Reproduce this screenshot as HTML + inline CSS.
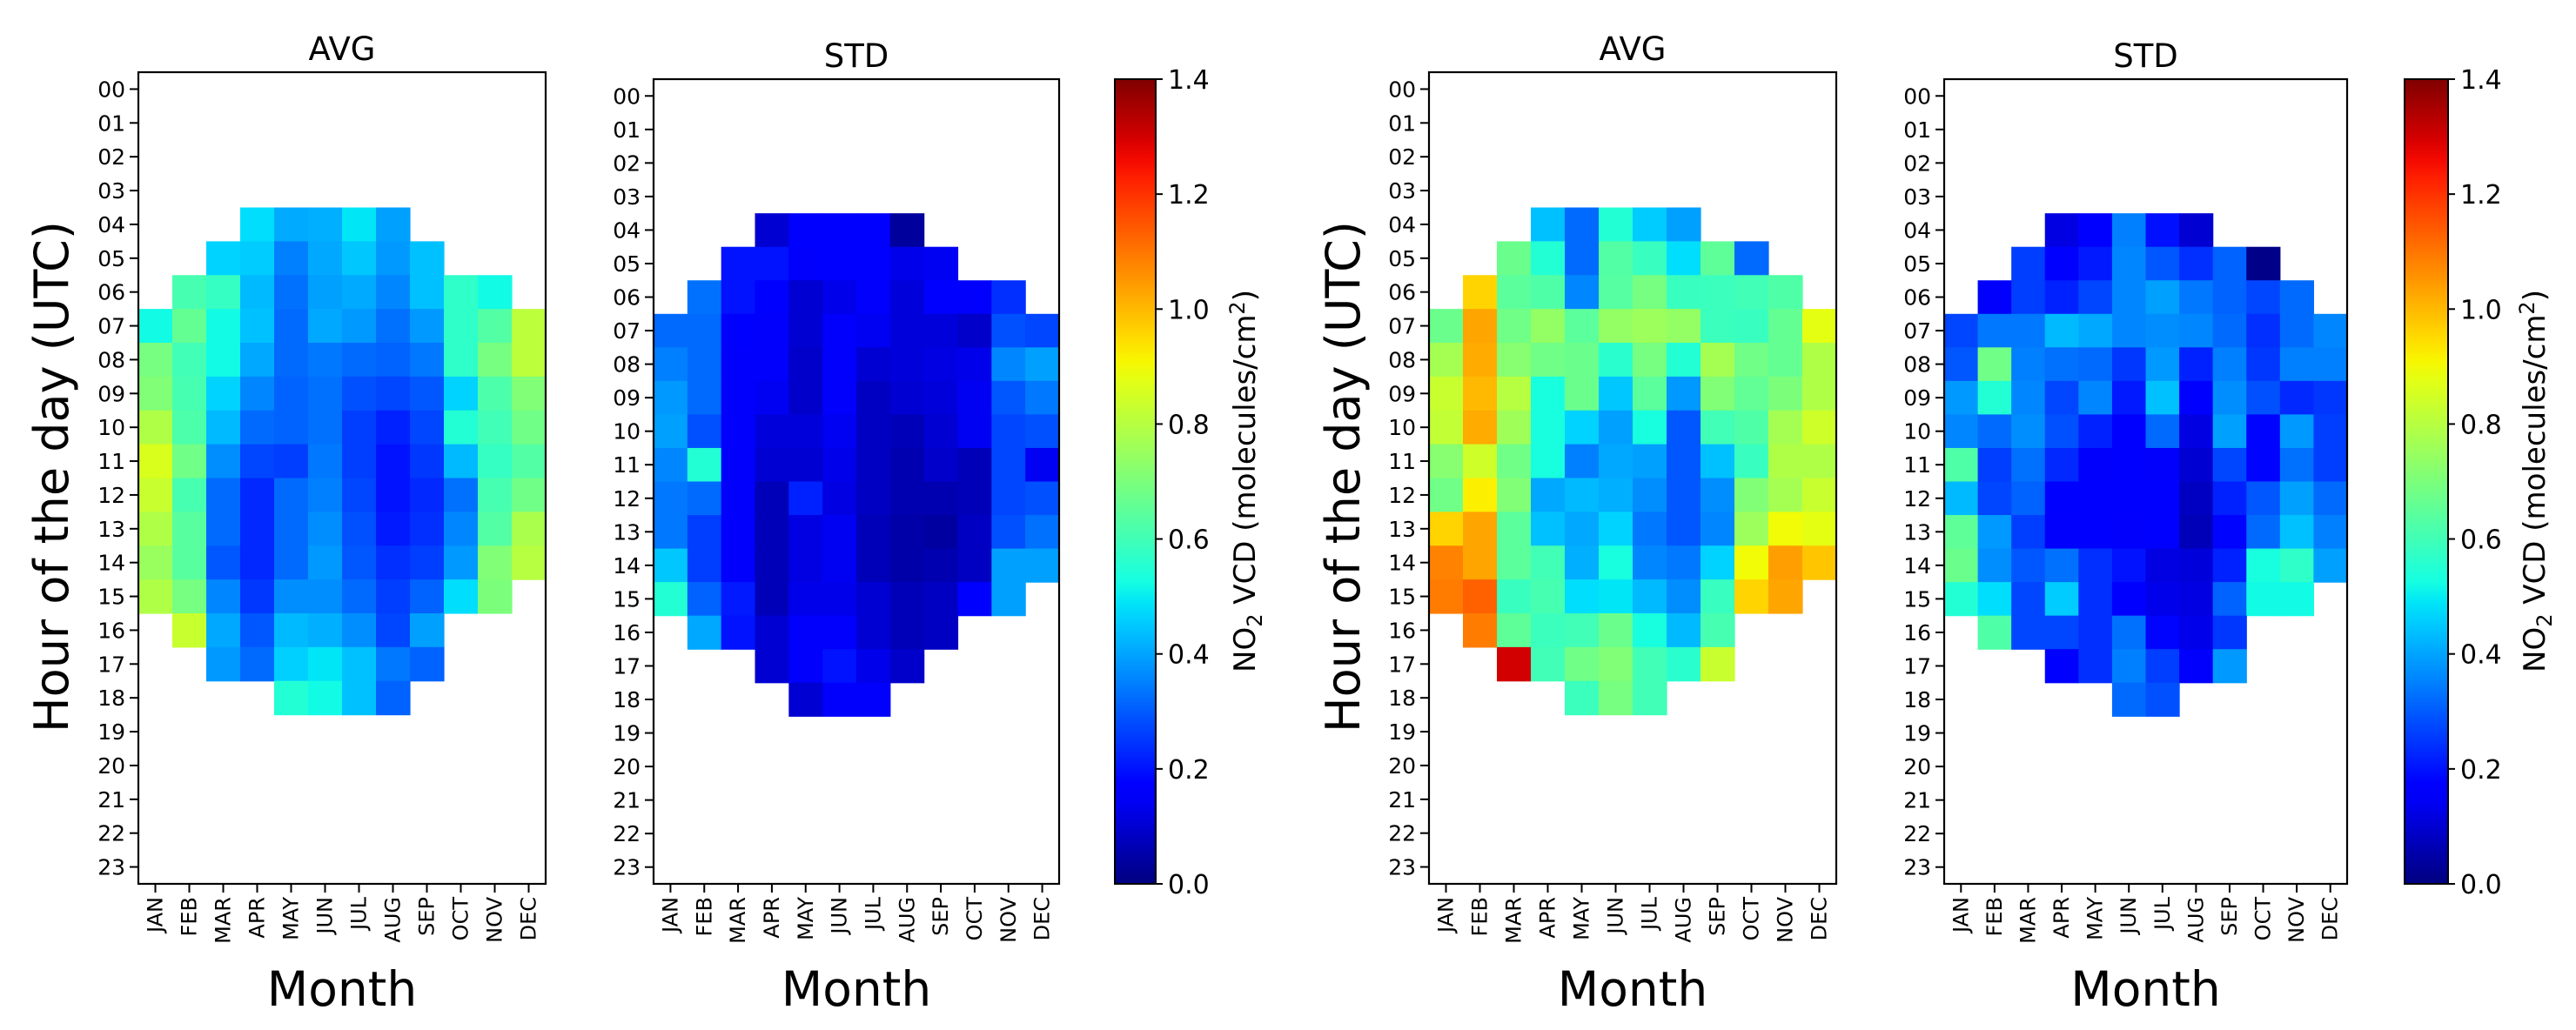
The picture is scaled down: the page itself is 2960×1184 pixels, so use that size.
<!DOCTYPE html>
<html><head><meta charset="utf-8"><style>
html,body{margin:0;padding:0;background:#fff}
svg{display:block;font-family:"DejaVu Sans","Liberation Sans",sans-serif}
</style></head><body>
<svg id="fig" width="2960" height="1184" viewBox="0 0 2960 1184" xmlns="http://www.w3.org/2000/svg">
<defs>
<linearGradient id="jetGrad" x1="0" y1="1" x2="0" y2="0"></linearGradient>
</defs>
<g id="root"></g>
</svg>
<script>
const months = ["JAN","FEB","MAR","APR","MAY","JUN","JUL","AUG","SEP","OCT","NOV","DEC"];
const hourLabels = ["00","01","02","03","04","05","06","07","08","09","10","11","12","13","14","15","16","17","18","19","20","21","22","23"];
const cbTicks = [0.0,0.2,0.4,0.6,0.8,1.0,1.2,1.4];
const vMin = 0, vMax = 1.4;
const firstHour = 4;
const N = null;
const avgA = [
[N,N,N,.48,.41,.415,.49,.395,N,N,N,N],
[N,N,.465,.455,.35,.405,.45,.385,.44,N,N,N],
[N,.61,.58,.43,.33,.395,.41,.36,.44,.57,.52,N],
[.52,.66,.52,.44,.32,.405,.385,.33,.385,.57,.63,.81],
[.69,.60,.52,.405,.32,.34,.32,.31,.34,.57,.69,.81],
[.71,.61,.465,.36,.31,.33,.285,.27,.295,.465,.62,.71],
[.79,.62,.43,.32,.31,.33,.26,.22,.27,.55,.60,.68],
[.86,.68,.37,.27,.26,.34,.26,.20,.25,.43,.58,.63],
[.83,.61,.32,.23,.32,.35,.27,.20,.23,.33,.61,.68],
[.79,.64,.32,.23,.32,.37,.285,.21,.24,.36,.63,.78],
[.75,.64,.295,.23,.32,.385,.295,.24,.26,.385,.71,.80],
[.79,.69,.36,.25,.37,.37,.32,.26,.31,.48,.70,N],
[N,.83,.405,.295,.43,.415,.37,.27,.395,N,N,N],
[N,N,.385,.32,.46,.49,.44,.34,.31,N,N,N],
[N,N,N,N,.55,.52,.44,.31,N,N,N,N]
];
const stdA = [
[N,N,N,.10,.17,.17,.17,.035,N,N,N,N],
[N,N,.20,.20,.15,.16,.16,.13,.14,N,N,N],
[N,.33,.20,.17,.10,.13,.15,.11,.16,.15,.24,N],
[.32,.32,.16,.15,.10,.15,.14,.11,.11,.09,.285,.27],
[.35,.32,.15,.15,.09,.15,.10,.11,.12,.13,.36,.395],
[.385,.32,.15,.14,.09,.15,.08,.10,.11,.14,.295,.34],
[.395,.285,.15,.11,.11,.14,.08,.07,.10,.14,.27,.285],
[.36,.55,.15,.10,.10,.13,.08,.06,.09,.07,.27,.14],
[.34,.32,.15,.07,.22,.12,.08,.06,.06,.07,.27,.285],
[.34,.26,.15,.07,.12,.14,.07,.05,.04,.08,.285,.33],
[.45,.26,.15,.07,.12,.14,.07,.05,.06,.08,.395,.395],
[.55,.31,.21,.07,.13,.13,.10,.07,.08,.16,.395,N],
[N,.405,.20,.10,.15,.15,.10,.07,.08,N,N,N],
[N,N,N,.10,.15,.20,.13,.09,N,N,N,N],
[N,N,N,N,.10,.15,.15,N,N,N,N,N]
];
const avgB = [
[N,N,N,.44,.32,.55,.455,.395,N,N,N,N],
[N,N,.67,.55,.32,.63,.585,.48,.65,.32,N,N],
[N,.96,.645,.625,.36,.635,.69,.585,.59,.60,.625,N],
[.67,1.03,.68,.74,.645,.74,.755,.74,.59,.585,.66,.88],
[.77,1.02,.72,.68,.67,.56,.69,.55,.77,.68,.66,.79],
[.83,1.0,.80,.53,.67,.45,.645,.385,.71,.655,.70,.79],
[.82,1.02,.76,.53,.465,.395,.53,.295,.60,.625,.77,.84],
[.72,.84,.68,.53,.35,.405,.395,.295,.44,.585,.79,.79],
[.68,.92,.71,.405,.43,.415,.37,.295,.37,.71,.77,.83],
[.96,1.03,.645,.44,.405,.465,.34,.295,.36,.755,.90,.88],
[1.08,1.03,.645,.60,.415,.53,.36,.34,.465,.90,1.04,.98],
[1.09,1.13,.585,.61,.48,.49,.43,.37,.585,.96,1.03,N],
[N,1.09,.65,.59,.60,.67,.53,.43,.61,N,N,N],
[N,N,1.3,.60,.68,.71,.60,.56,.83,N,N,N],
[N,N,N,N,.59,.69,.60,N,N,N,N,N]
];
const stdB = [
[N,N,N,.12,.175,.35,.195,.10,N,N,N,N],
[N,N,.26,.17,.21,.36,.295,.24,.31,.01,N,N],
[N,.15,.26,.22,.27,.36,.395,.34,.31,.27,.32,N],
[.27,.34,.34,.43,.405,.36,.37,.36,.32,.24,.32,.36],
[.295,.68,.35,.33,.32,.25,.385,.22,.35,.25,.35,.35],
[.385,.55,.36,.27,.36,.21,.44,.17,.37,.285,.23,.25],
[.36,.32,.37,.285,.22,.17,.32,.12,.395,.18,.385,.26],
[.625,.26,.33,.23,.15,.17,.15,.10,.27,.18,.33,.26],
[.43,.27,.31,.17,.17,.17,.17,.08,.22,.295,.395,.32],
[.65,.385,.26,.15,.16,.15,.17,.07,.18,.32,.44,.35],
[.67,.37,.295,.33,.24,.20,.12,.11,.22,.53,.57,.395],
[.55,.48,.27,.455,.24,.17,.13,.12,.31,.52,.52,N],
[N,.625,.27,.27,.24,.33,.18,.13,.25,N,N,N],
[N,N,N,.17,.24,.35,.26,.15,.385,N,N,N],
[N,N,N,N,N,.32,.285,N,N,N,N,N]
];

function jet(v){
  let t=(v-vMin)/(vMax-vMin); t=Math.max(0,Math.min(1,t));
  function interp(pts){for(let i=1;i<pts.length;i++){if(t<=pts[i][0]){const a=pts[i-1],b=pts[i];return a[1]+(b[1]-a[1])*(t-a[0])/(b[0]-a[0]);}}return pts[pts.length-1][1];}
  const r=interp([[0,0],[0.35,0],[0.66,1],[0.89,1],[1,0.5]]);
  const g=interp([[0,0],[0.125,0],[0.375,1],[0.64,1],[0.91,0],[1,0]]);
  const b=interp([[0,0.5],[0.11,1],[0.34,1],[0.65,0],[1,0]]);
  return `rgb(${Math.round(r*255)},${Math.round(g*255)},${Math.round(b*255)})`;
}
const NS="http://www.w3.org/2000/svg";
const root=document.getElementById('root');
function mk(tag,attrs,parent){const e=document.createElementNS(NS,tag);for(const k in attrs)e.setAttribute(k,attrs[k]);(parent||root).appendChild(e);return e;}

const grad=document.getElementById('jetGrad');
for(let i=0;i<=40;i++){const s=document.createElementNS(NS,'stop');s.setAttribute('offset',(i/40));s.setAttribute('stop-color',jet(vMin+(vMax-vMin)*i/40));grad.appendChild(s);}

function panel(name,data,L,R,T,B,title){
  const g=mk('g',{});
  
  
  const cw=(R-L)/12, rh=(B-T)/24;
  const xS=c=>L+c*cw, yS=h=>T+h*rh;
  data.forEach((row,ri)=>{row.forEach((v,ci)=>{
    if(v===null)return;
    const r=mk('rect',{x:xS(ci),y:yS(ri+firstHour),width:cw+0.6,height:rh+0.6,fill:jet(v)},g);
    
    
  });});
  const fr=mk('rect',{x:L,y:T,width:R-L,height:B-T,fill:'none',stroke:'#000','stroke-width':2.2},g);
  
  
  hourLabels.forEach((h,i)=>{
    const y=yS(i+0.5);
    mk('line',{x1:L-10,x2:L,y1:y,y2:y,stroke:'#000','stroke-width':2},g);
    const t=mk('text',{x:L-15,y:y+9,'text-anchor':'end','font-size':25,fill:'#000'},g);
    t.textContent=h;
    
    
  });
  months.forEach((m,i)=>{
    const x=xS(i+0.5);
    mk('line',{x1:x,x2:x,y1:B,y2:B+10,stroke:'#000','stroke-width':2},g);
    const t=mk('text',{x:0,y:0,'text-anchor':'end','font-size':24,fill:'#000',transform:`translate(${x+8},${B+15}) rotate(-90)`},g);
    t.textContent=m;
    
    
  });
  const tt=mk('text',{x:(L+R)/2,y:T-14,'text-anchor':'middle','font-size':37,fill:'#000'},g);
  tt.textContent=title;
  
  
  const xl=mk('text',{x:(L+R)/2,y:1156,'text-anchor':'middle','font-size':55,fill:'#000'},g);
  xl.textContent='Month';
  
  
}
function ylabel(x){
  const t=mk('text',{x:0,y:0,'text-anchor':'middle','font-size':54,fill:'#000',transform:`translate(${x},548) rotate(-90)`});
  t.textContent='Hour of the day (UTC)';
  
  
}
function colorbar(L,R,T,B,lx){
  const g=mk('g',{});
  
  
  mk('rect',{x:L,y:T,width:R-L,height:B-T,fill:'url(#jetGrad)',stroke:'#000','stroke-width':2},g);
  const yS=v=>B-(v-vMin)/(vMax-vMin)*(B-T);
  cbTicks.forEach(v=>{
    const y=yS(v);
    mk('line',{x1:R,x2:R+8,y1:y,y2:y,stroke:'#000','stroke-width':2},g);
    const t=mk('text',{x:R+14,y:y+11,'font-size':30,fill:'#000'},g);
    t.textContent=v.toFixed(1);
    
    
  });
  const t=mk('text',{x:0,y:0,'text-anchor':'middle','font-size':34,fill:'#000',transform:`translate(${lx},553) rotate(-90)`},g);
  t.innerHTML='NO<tspan font-size="24" dy="8">2</tspan><tspan dy="-8"> VCD (molecules/cm</tspan><tspan font-size="24" dy="-12">2</tspan><tspan dy="12">)</tspan>';
  
  
}
panel('avg-left',avgA,159,627,83,1016,'AVG');
panel('std-left',stdA,751,1217,91,1016,'STD');
colorbar(1281,1328,91,1016,1442);
ylabel(78);
panel('avg-right',avgB,1642,2110,83,1016,'AVG');
panel('std-right',stdB,2234,2697,91,1016,'STD');
colorbar(2763,2813,91,1016,2924);
ylabel(1562);
</script>
</body></html>
